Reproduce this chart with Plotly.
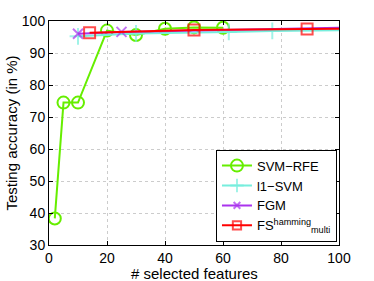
import plotly.graph_objects as go

svm_x = [2, 5, 10, 20, 30, 40, 50, 60]
svm_y = [38.3, 74.5, 74.5, 97.0, 95.6, 97.6, 98.0, 97.9]

l1_x = [10, 30, 62, 77, 100]
l1_y = [95.2, 96.1, 96.6, 96.9, 97.1]
l1_marked = [True, True, True, True, False]

fgm_x = [10, 25, 100]
fgm_y = [96.0, 96.6, 97.9]
fgm_marked = [True, True, False]

fs_x = [14, 50, 89, 100]
fs_y = [96.3, 97.2, 97.5, 97.6]
fs_marked = [True, True, True, False]

x_title = "# selected features"
y_title = "Testing accuracy (in %)"


def sizes(flags, s):
    return [s if f else 0 for f in flags]


fig = go.Figure()
fig.add_trace(go.Scatter(x=svm_x, y=svm_y, name="SVM−RFE", mode="lines+markers",
                         line=dict(color="#66ee00", width=2),
                         marker=dict(symbol="circle-open", size=12, color="#66ee00", line=dict(width=2))))
fig.add_trace(go.Scatter(x=l1_x, y=l1_y, name="l1−SVM", mode="lines+markers",
                         line=dict(color="#77eedd", width=2),
                         marker=dict(symbol="cross-thin-open", size=sizes(l1_marked, 12), color="#77eedd",
                                     line=dict(width=2, color="#77eedd"))))
fig.add_trace(go.Scatter(x=fgm_x, y=fgm_y, name="FGM", mode="lines+markers",
                         line=dict(color="#aa33ee", width=2),
                         marker=dict(symbol="x-thin-open", size=sizes(fgm_marked, 10), color="#aa33ee",
                                     line=dict(width=2, color="#aa33ee"))))
fig.add_trace(go.Scatter(x=fs_x, y=fs_y, name="FS<sup>hamming</sup><sub>multi</sub>", mode="lines+markers",
                         line=dict(color="#ff0000", width=2),
                         marker=dict(symbol="square-open", size=sizes(fs_marked, 11), color="#ff0000",
                                     line=dict(width=2))))

axis_common = dict(showline=True, linecolor="black", linewidth=1, mirror="ticks",
                   ticks="inside", ticklen=4, tickcolor="black",
                   showgrid=True, gridcolor="#cccccc", griddash="dot", gridwidth=1,
                   zeroline=False, automargin=False, tickfont=dict(size=14, color="black"))

fig.update_xaxes(range=[0, 100], dtick=20, **axis_common)
fig.update_yaxes(range=[30, 100], dtick=10, **axis_common)

fig.add_annotation(text=x_title, xref="paper", yref="paper", x=0.5, y=0,
                   xanchor="center", yanchor="middle", yshift=-28, showarrow=False,
                   font=dict(size=15, color="black"))
fig.add_annotation(text=y_title, xref="paper", yref="paper", x=0, y=0.5,
                   xanchor="center", yanchor="middle", xshift=-38.5, textangle=-90, showarrow=False,
                   font=dict(size=15, color="black"))

fig.update_layout(
    width=374, height=281,
    margin=dict(l=49, r=35, t=21, b=36),
    plot_bgcolor="white", paper_bgcolor="white",
    font=dict(family="Liberation Sans, Arial, sans-serif", size=14, color="black"),
    legend=dict(x=0.993, y=0.015, xanchor="right", yanchor="bottom", xref="paper", yref="paper",
                bgcolor="white", bordercolor="black", borderwidth=1,
                font=dict(size=13), tracegroupgap=0, itemwidth=30),
    showlegend=True,
)

fig.write_html("out.html", config={"displayModeBar": False},
               post_script="document.body.style.margin='0px';")
